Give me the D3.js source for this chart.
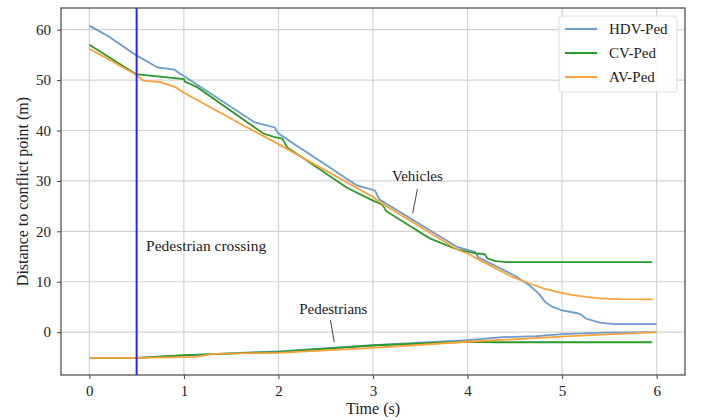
<!DOCTYPE html>
<meta charset="utf-8">
<style>
  body { margin: 0; background: #fff; }
  svg text { font-family: "Liberation Serif", "Times New Roman", serif; fill: #222; }
</style>
<body>
<script src="https://d3js.org/d3.v7.min.js"></script>
<script>

// series: [time (s), distance (m)]
var hdvVeh = [[0,60.8],[0.2,58.7],[0.49,55.0],[0.72,52.5],[0.9,52.1],[0.96,51.2],[1.0,50.8],[1.75,41.6],[1.96,40.6],[2.0,39.4],[2.83,29.1],[3.02,28.1],[3.07,26.3],[3.89,16.9],[4.08,15.9],[4.11,14.9],[4.5,11.2],[4.66,9.2],[4.76,7.5],[4.82,6.0],[4.9,5.0],[5.0,4.3],[5.15,3.8],[5.2,3.5],[5.25,2.7],[5.4,1.9],[5.55,1.6],[6.0,1.6]];
var cvVeh = [[0,57.0],[0.49,51.2],[1.0,50.2],[1.01,49.7],[1.14,48.6],[1.84,39.4],[1.96,38.7],[2.04,38.4],[2.09,36.7],[2.72,28.7],[3.0,26.1],[3.1,25.3],[3.14,24.0],[3.6,18.6],[3.89,16.4],[4.1,15.6],[4.18,15.5],[4.21,14.6],[4.3,14.1],[4.41,13.9],[5.95,13.9]];
var avVeh = [[0,56.2],[0.49,51.1],[0.57,49.9],[0.75,49.6],[0.91,48.6],[1.0,47.5],[1.59,41.4],[2.0,37.3],[3.0,26.8],[3.07,25.8],[3.89,16.4],[4.0,15.6],[4.2,13.6],[4.48,10.9],[4.66,9.6],[4.8,8.7],[4.97,7.9],[5.1,7.4],[5.25,7.0],[5.4,6.7],[5.6,6.55],[5.96,6.5]];
var hdvPed = [[0,-5.1],[0.5,-5.1],[1.0,-4.6],[2.0,-3.8],[3.0,-2.6],[4.0,-1.6],[4.37,-1.0],[4.73,-0.8],[5.0,-0.4],[5.43,-0.1],[6.0,0]];
var cvPed = [[0,-5.1],[0.5,-5.1],[0.96,-4.6],[2.0,-3.9],[3.04,-2.6],[4.0,-1.9],[4.3,-2.0],[5.95,-2.0]];
var avPed = [[0,-5.1],[0.5,-5.1],[1.14,-4.9],[1.3,-4.3],[2.0,-4.1],[3.0,-3.1],[4.0,-1.9],[4.9,-1.0],[5.08,-0.8],[6.0,0]];

var seriesNames = ["HDV-Ped", "CV-Ped", "AV-Ped"];
var seriesColors = ["#6b9bcf", "#2a9a2a", "#fca13a"];
var xTicks = [0, 1, 2, 3, 4, 5, 6];
var yTicks = [0, 10, 20, 30, 40, 50, 60];
var crossingTime = 0.5;

var margin = {top: 8, right: 21, bottom: 45, left: 61},
    width = 706 - margin.left - margin.right,
    height = 420 - margin.top - margin.bottom;

var svg = d3.select("body").append("svg")
    .attr("width", 706)
    .attr("height", 420);

var g = svg.append("g")
    .attr("transform", "translate(" + margin.left + "," + margin.top + ")");

var x = d3.scaleLinear().domain([-0.3, 6.3]).range([0, width]);
var y = d3.scaleLinear().domain([-8.5, 64.3]).range([height, 0]);

// grid
g.append("g").selectAll("line").data(xTicks).enter().append("line")
    .attr("x1", d => x(d)).attr("x2", d => x(d))
    .attr("y1", 0).attr("y2", height)
    .attr("stroke", "#d3d3d3").attr("stroke-width", 1.2);
g.append("g").selectAll("line").data(yTicks).enter().append("line")
    .attr("y1", d => y(d)).attr("y2", d => y(d))
    .attr("x1", 0).attr("x2", width)
    .attr("stroke", "#d3d3d3").attr("stroke-width", 1.2);

// axes
var xAxis = g.append("g")
    .attr("transform", "translate(0," + height + ")")
    .call(d3.axisBottom(x).tickValues(xTicks).tickFormat(d3.format("d")).tickSize(4).tickPadding(6));
var yAxis = g.append("g")
    .call(d3.axisLeft(y).tickValues(yTicks).tickFormat(d3.format("d")).tickSize(4).tickPadding(6));
[xAxis, yAxis].forEach(function(a) {
  a.select(".domain").remove();
  a.selectAll("line").attr("stroke", "#444");
  a.selectAll("text").style("font-size", "15px").attr("fill", "#222");
});

var line = d3.line()
    .x(d => x(d[0]))
    .y(d => y(d[1]));

var vehSeries = [hdvVeh, cvVeh, avVeh];
var pedSeries = [hdvPed, cvPed, avPed];

pedSeries.forEach(function(s, i) {
  g.append("path").datum(s)
    .attr("d", line)
    .attr("fill", "none")
    .attr("stroke", seriesColors[i])
    .attr("stroke-width", 1.8);
});
vehSeries.forEach(function(s, i) {
  g.append("path").datum(s)
    .attr("d", line)
    .attr("fill", "none")
    .attr("stroke", seriesColors[i])
    .attr("stroke-width", 1.8);
});

// pedestrian crossing marker
g.append("line")
    .attr("x1", x(crossingTime)).attr("x2", x(crossingTime))
    .attr("y1", 0).attr("y2", height)
    .attr("stroke", "#2626f5").attr("stroke-width", 2);

// frame
g.append("rect")
    .attr("width", width).attr("height", height)
    .attr("fill", "none").attr("stroke", "#444").attr("stroke-width", 1.2);

// annotations
g.append("text")
    .attr("x", x(0.6)).attr("y", y(17.2))
    .attr("dy", "0.35em")
    .style("font-size", "15.5px")
    .text("Pedestrian crossing");

g.append("text")
    .attr("x", x(3.47)).attr("y", y(31.1))
    .attr("dy", "0.35em").attr("text-anchor", "middle")
    .style("font-size", "15px")
    .text("Vehicles");
g.append("line")
    .attr("x1", x(3.47)).attr("y1", y(28.4))
    .attr("x2", x(3.42)).attr("y2", y(23.6))
    .attr("stroke", "#444").attr("stroke-width", 1);

g.append("text")
    .attr("x", x(2.58)).attr("y", y(4.6))
    .attr("dy", "0.35em").attr("text-anchor", "middle")
    .style("font-size", "15px")
    .text("Pedestrians");
g.append("line")
    .attr("x1", x(2.55)).attr("y1", y(2.4))
    .attr("x2", x(2.59)).attr("y2", y(-2.0))
    .attr("stroke", "#444").attr("stroke-width", 1);

// axis labels
svg.append("text")
    .attr("x", margin.left + width / 2).attr("y", 414)
    .attr("text-anchor", "middle")
    .style("font-size", "16px")
    .text("Time (s)");
svg.append("text")
    .attr("transform", "translate(22," + (margin.top + height / 2) + ") rotate(-90)")
    .attr("text-anchor", "middle")
    .attr("dy", "0.35em")
    .style("font-size", "16px")
    .text("Distance to conflict point (m)");

// legend
var legend = g.append("g")
    .attr("transform", "translate(" + (width - 126) + ",8)");
legend.append("rect")
    .attr("width", 118).attr("height", 76)
    .attr("rx", 3)
    .attr("fill", "#fff").attr("fill-opacity", 0.85)
    .attr("stroke", "#ddd");
seriesNames.forEach(function(n, i) {
  var ly = 13 + i * 24;
  legend.append("line")
    .attr("x1", 6).attr("x2", 38)
    .attr("y1", ly).attr("y2", ly)
    .attr("stroke", seriesColors[i]).attr("stroke-width", 2);
  legend.append("text")
    .attr("x", 50).attr("y", ly)
    .attr("dy", "0.35em")
    .style("font-size", "15px")
    .text(n);
});
</script>
</body>
